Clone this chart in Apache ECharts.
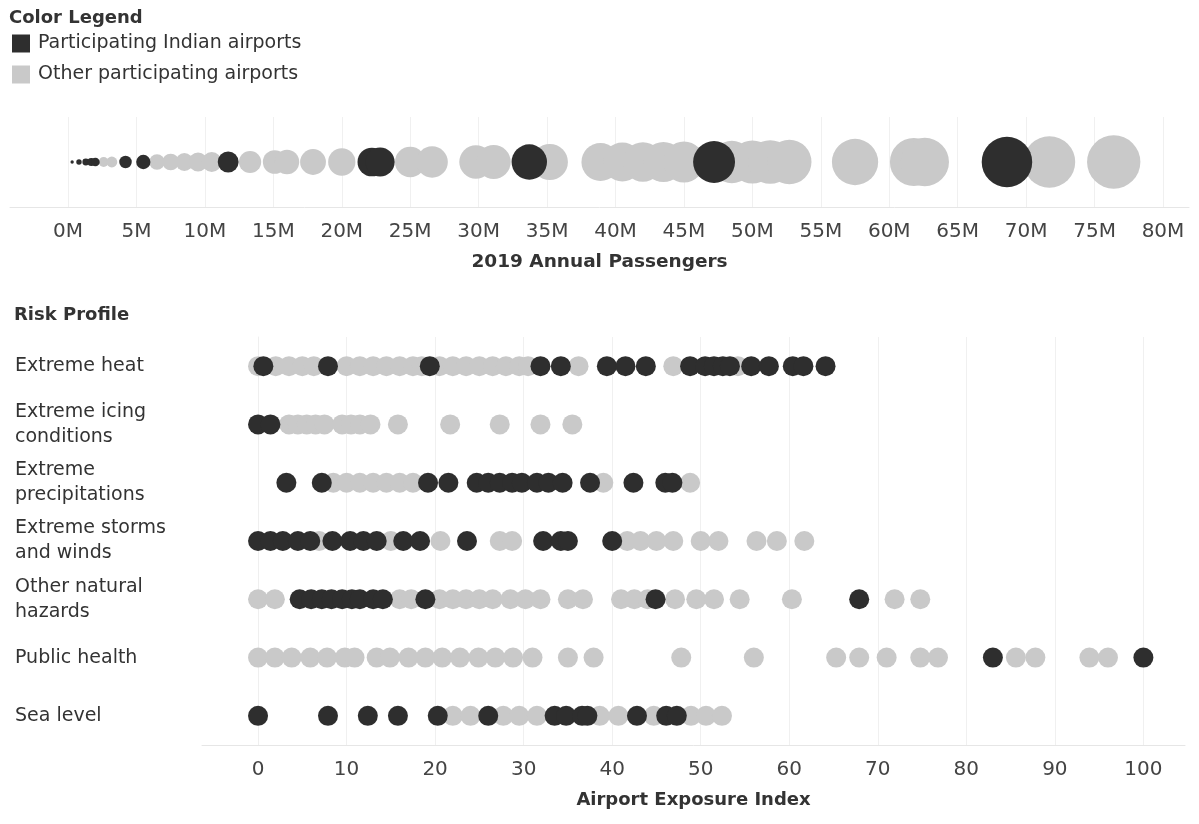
<!DOCTYPE html>
<html>
<head>
<meta charset="utf-8">
<script src="https://cdn.jsdelivr.net/npm/echarts@6/dist/echarts.min.js"></script>
<style>html,body{margin:0;padding:0;background:#fff}#c{width:1199px;height:824px}</style>
</head>
<body>
<div id="c"></div>
<script>
// ---- Data ----
const legendNames = ['Participating Indian airports', 'Other participating airports'];
const passengerTicks = [0,5,10,15,20,25,30,35,40,45,50,55,60,65,70,75,80];
const exposureTicks = [0,10,20,30,40,50,60,70,80,90,100];

// 2019 annual passengers (millions)
const indianPassengers = [0.3, 0.8, 1.3, 1.7, 2.0, 4.2, 5.5, 11.7, 22.2, 22.8, 33.7, 47.2, 68.6];
const otherPassengers = [2.6, 3.2, 6.5, 7.5, 8.5, 9.5, 10.5, 13.3, 15.1, 16.0, 17.9, 20.0, 25.0, 26.6, 29.8, 31.1, 35.2, 38.9, 40.5, 42.0, 43.5, 45.0, 48.5, 50.0, 51.3, 52.7, 57.5, 61.8, 62.6, 71.7, 76.4];

const riskCategories = ['Extreme heat', 'Extreme icing\nconditions', 'Extreme\nprecipitations', 'Extreme storms\nand winds', 'Other natural\nhazards', 'Public health', 'Sea level'];

const heatIndian = [0.6, 7.9, 19.4, 31.9, 34.2, 39.4, 41.5, 43.8, 48.8, 50.5, 51.5, 52.5, 53.3, 55.7, 57.7, 60.4, 61.6, 64.1];
const heatOther = [0, 2, 3.5, 5, 6.3, 10, 11.5, 13, 14.5, 16, 17.5, 18.5, 20.5, 22, 23.5, 25, 26.5, 28, 29.5, 30.5, 36.2, 46.9, 54.2];
const icingIndian = [0, 1.4];
const icingOther = [3.5, 4.5, 5.5, 6.5, 7.5, 9.5, 10.5, 11.5, 12.7, 15.8, 21.7, 27.3, 31.9, 35.5];
const precipIndian = [3.2, 7.2, 19.2, 21.5, 24.7, 26, 27.3, 28.7, 29.8, 31.5, 32.8, 34.4, 37.5, 42.4, 46, 46.8];
const precipOther = [8.5, 10, 11.5, 13, 14.5, 16, 17.5, 39, 48.8];
const stormsIndian = [0, 1.4, 2.8, 4.5, 5.9, 8.4, 10.4, 11.9, 13.4, 16.4, 18.3, 23.6, 32.2, 34.2, 35, 40];
const stormsOther = [6.9, 15, 20.6, 27.3, 28.7, 41.7, 43.2, 45, 46.9, 50, 52, 56.3, 58.6, 61.7];
const naturalIndian = [4.7, 6, 7.2, 8.3, 9.5, 10.6, 11.5, 13, 14.1, 18.9, 44.9, 67.9];
const naturalOther = [0, 1.9, 16, 17.3, 20.5, 22, 23.5, 25, 26.5, 28.5, 30.2, 31.9, 35, 36.7, 41, 42.5, 44, 47.1, 49.5, 51.5, 54.4, 60.3, 71.9, 74.8];
const healthIndian = [83, 100];
const healthOther = [0, 1.9, 3.8, 5.9, 7.8, 9.8, 10.9, 13.4, 14.9, 17, 18.9, 20.8, 22.8, 24.9, 26.8, 28.8, 31, 35, 37.9, 47.8, 56, 65.3, 67.9, 71, 74.8, 76.8, 85.6, 87.8, 93.9, 96];
const seaIndian = [0, 7.9, 12.4, 15.8, 20.3, 26, 33.5, 34.8, 36.6, 37.2, 42.8, 46.1, 47.3];
const seaOther = [22, 24, 27.7, 29.5, 31.5, 38.6, 40.7, 44.7, 48.9, 50.6, 52.4];

// ---- Build ----
const indianByRisk = [heatIndian, icingIndian, precipIndian, stormsIndian, naturalIndian, healthIndian, seaIndian];
const otherByRisk = [heatOther, icingOther, precipOther, stormsOther, naturalOther, healthOther, seaOther];
function riskPoints(lists) {
  const out = [];
  lists.forEach((arr, i) => arr.forEach(v => out.push([v, riskCategories[i]])));
  return out;
}
const DARK = '#2e2e2e', LIGHT = '#c9c9c9', TXT = '#333', FONT = 'DejaVu Sans';
const bubbleSize = d => 6.1 * Math.sqrt(d[0]);

const chart = echarts.init(document.getElementById('c'), null, {renderer: 'canvas'});
chart.setOption({
  animation: false,
  textStyle: {fontFamily: FONT},
  title: [
    {text: 'Color Legend', left: 4, top: 4, textStyle: {fontFamily: FONT, fontSize: 18, fontWeight: 'bold', color: TXT}},
    {text: 'Risk Profile', left: 9, top: 301, textStyle: {fontFamily: FONT, fontSize: 18, fontWeight: 'bold', color: TXT}}
  ],
  legend: {
    data: legendNames, orient: 'vertical', left: 12, top: 34, padding: 0, icon: 'rect',
    itemWidth: 18, itemHeight: 18, itemGap: 12, selectedMode: false,
    textStyle: {fontFamily: FONT, fontSize: 19, color: TXT, padding: [0, 0, 0, 3]}
  },
  grid: [
    {left: 10, right: 10, top: 117, height: 90},
    {left: 202, right: 14, top: 337, height: 408}
  ],
  xAxis: [
    {
      gridIndex: 0, type: 'value', min: -4.24, max: 81.9,
      name: '2019 Annual Passengers', nameLocation: 'middle', nameGap: 46,
      nameTextStyle: {fontFamily: FONT, fontSize: 18.5, fontWeight: 'bold', color: TXT},
      axisLine: {show: true, lineStyle: {color: '#e6e6e6'}},
      axisTick: {show: false, customValues: passengerTicks},
      axisLabel: {customValues: passengerTicks, formatter: v => v + 'M', margin: 15, fontFamily: FONT, fontSize: 20, color: '#444'},
      splitLine: {show: true, lineStyle: {color: '#f0f0f0'}}
    },
    {
      gridIndex: 1, type: 'value', min: -6.33, max: 104.7,
      name: 'Airport Exposure Index', nameLocation: 'middle', nameGap: 46,
      nameTextStyle: {fontFamily: FONT, fontSize: 18, fontWeight: 'bold', color: TXT},
      axisLine: {show: true, lineStyle: {color: '#e6e6e6'}},
      axisTick: {show: false, customValues: exposureTicks},
      axisLabel: {customValues: exposureTicks, margin: 15, fontFamily: FONT, fontSize: 20, color: '#444'},
      splitLine: {show: true, lineStyle: {color: '#f0f0f0'}}
    }
  ],
  yAxis: [
    {gridIndex: 0, type: 'category', data: [''], axisLine: {show: false}, axisTick: {show: false}, axisLabel: {show: false}},
    {
      gridIndex: 1, type: 'category', data: riskCategories, inverse: true,
      axisLine: {show: true, lineStyle: {color: '#efefef'}}, axisTick: {show: false},
      axisLabel: {align: 'left', margin: 187, fontFamily: FONT, fontSize: 19, lineHeight: 25, color: TXT},
      splitLine: {show: false}
    }
  ],
  series: [
    {name: legendNames[1], type: 'scatter', xAxisIndex: 0, yAxisIndex: 0,
     data: otherPassengers.map(v => [v, '']), symbolSize: bubbleSize, itemStyle: {color: LIGHT, opacity: 1}},
    {name: legendNames[0], type: 'scatter', xAxisIndex: 0, yAxisIndex: 0,
     data: indianPassengers.map(v => [v, '']), symbolSize: bubbleSize, itemStyle: {color: DARK, opacity: 1}},
    {name: legendNames[1], type: 'scatter', xAxisIndex: 1, yAxisIndex: 1,
     data: riskPoints(otherByRisk), symbolSize: 20, itemStyle: {color: LIGHT, opacity: 1}},
    {name: legendNames[0], type: 'scatter', xAxisIndex: 1, yAxisIndex: 1,
     data: riskPoints(indianByRisk), symbolSize: 20, itemStyle: {color: DARK, opacity: 1}}
  ]
});
</script>
</body>
</html>
